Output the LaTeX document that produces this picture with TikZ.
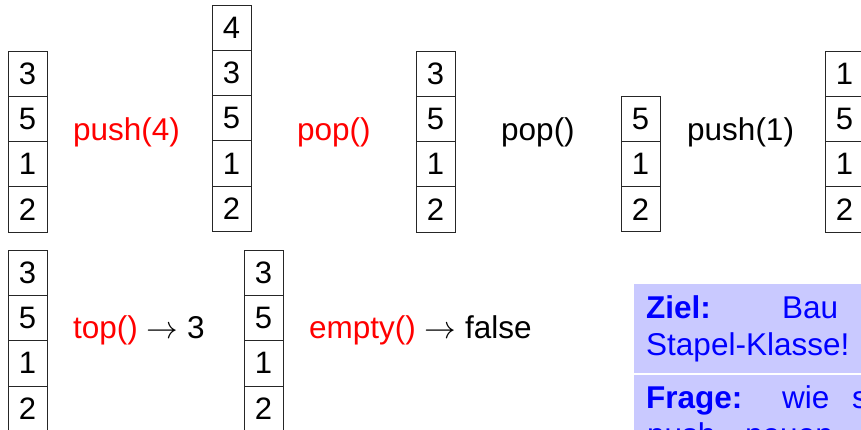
\documentclass[tikz,border=0pt]{standalone}
\usepackage{graphicx}
\usepackage{fontspec}
\setmainfont{Liberation Sans}
\newcommand{\bigarr}{\scalebox{1.27}{$\rightarrow$}}
\begin{document}
\begin{tikzpicture}[x=1pt,y=-1pt,
  cell/.style={draw=black!85,line width=0.8pt,minimum width=39pt,minimum height=45.3pt,inner sep=0pt,font=\fontsize{31}{36}\selectfont},
  lbl/.style={anchor=base west,inner sep=0pt,font=\fontsize{31.5}{36}\selectfont},
  boxtxt/.style={anchor=base west,inner sep=0pt,text=blue,font=\fontsize{31.5}{36}\selectfont}]
\clip (0,0) rectangle (861,430);
% stacks
\foreach \sid/\sx/\sy/\vals in {1/8/51/{3,5,1,2},2/212/5/{4,3,5,1,2},3/416/51/{3,5,1,2},4/621/96/{5,1,2},5/825/51/{1,5,1,2},6/8/250/{3,5,1,2},7/244/250/{3,5,1,2}}{
  \foreach \v [count=\i] in \vals {
    \node[cell] (s\sid-\i) at ({\sx+19.5},{\sy+45.3*(\i-0.5)}) {\v};
  }
}
% operation labels
\node[lbl,text=red] (op1) at (73,141) {push(4)};
\node[lbl,text=red] (op2) at (297,141) {pop()};
\node[lbl] (op3) at (501,141) {pop()};
\node[lbl] (op4) at (687,141) {push(1)};
\node[lbl] (op5) at (73,338) {\textcolor{red}{top()} \bigarr{} 3};
\node[lbl] (op6) at (309,338) {\textcolor{red}{empty()} \bigarr{} false};
% blue block
\fill[blue!21] (634,284) rectangle (880,450);
\draw[white,line width=1.5pt] (634,374) -- (880,374);
\node[boxtxt] (z1) at (646,318) {\textbf{Ziel:}};
\node[boxtxt] (z2) at (782,318) {Bau};
\node[boxtxt] (z3) at (646,355) {Stapel-Klasse!};
\node[boxtxt] (f1) at (646,408) {\textbf{Frage:}};
\node[boxtxt] (f2) at (782,408) {wie};
\node[boxtxt] (f3) at (852,408) {s};
\node[boxtxt] (f4) at (647,445) {push};
\node[boxtxt] (f5) at (745,445) {neuen};
\end{tikzpicture}
\end{document}
